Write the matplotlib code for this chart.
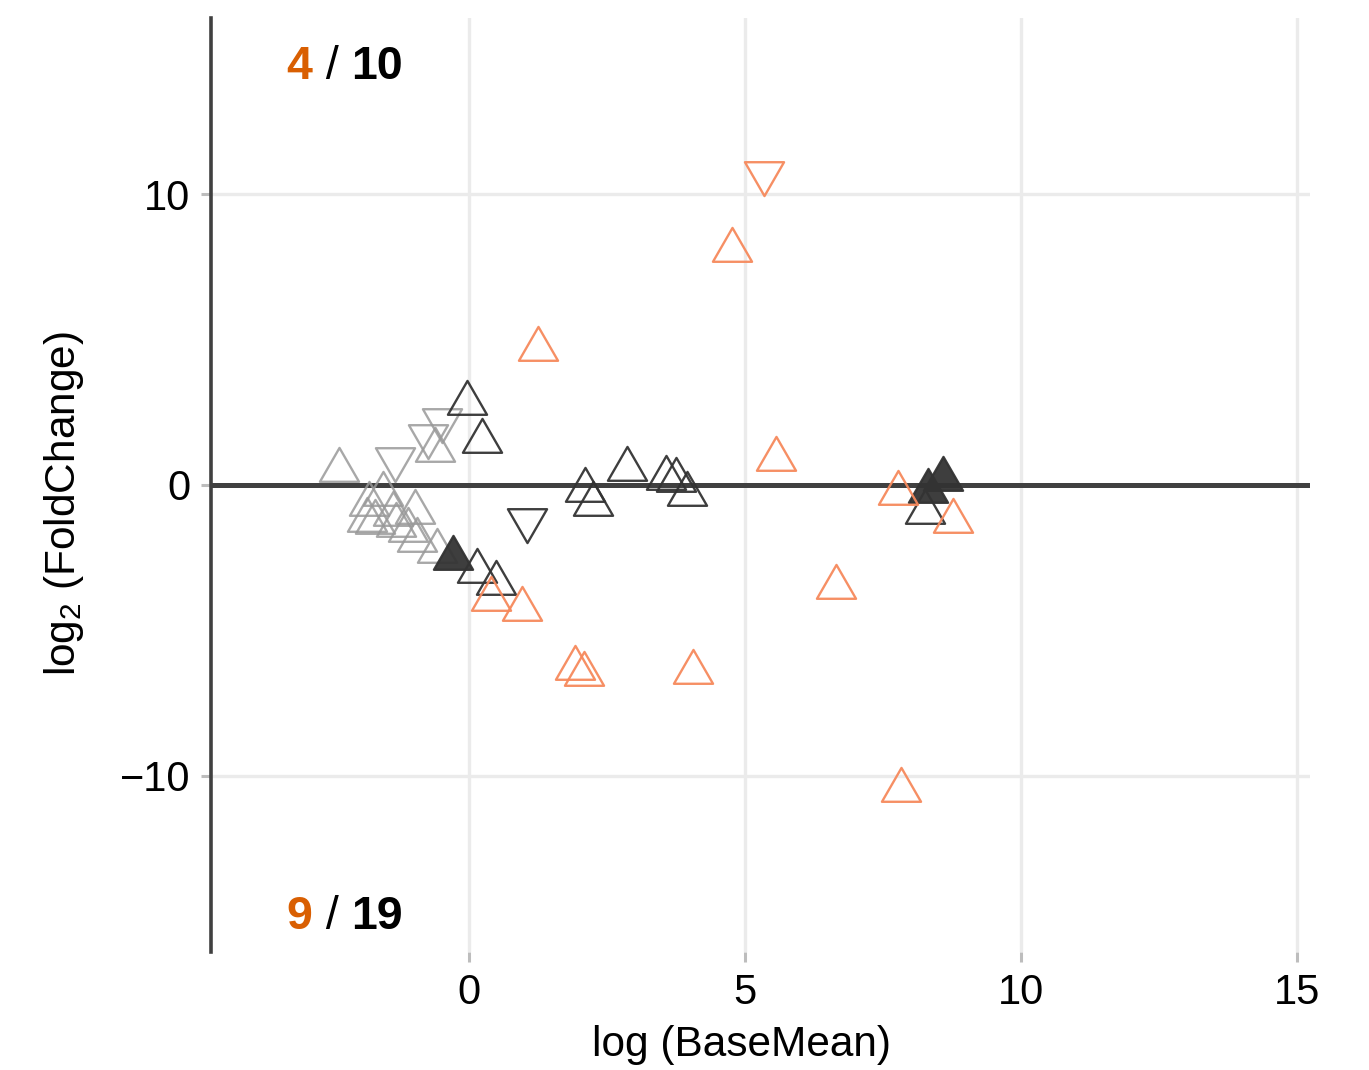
import matplotlib
matplotlib.use("Agg")
import matplotlib.pyplot as plt
from matplotlib.path import Path
from matplotlib.markers import MarkerStyle

plt.rcParams['font.family'] = ['Liberation Sans', 'DejaVu Sans']
plt.rcParams['mathtext.fontset'] = 'custom'
plt.rcParams['mathtext.rm'] = 'Liberation Sans'

# ---- data ----
gray_up_x = [-2.36, -0.62, -1.56, -1.80, -0.98, -1.38, -1.85, -1.70, -1.32, -1.10, -0.94, -0.58]
gray_up_y = [0.52, 1.20, -0.31, -0.65, -0.93, -1.00, -1.20, -1.27, -1.37, -1.55, -1.89, -2.27]
gray_down_x = [-1.34, -0.74, -0.49]
gray_down_y = [0.89, 1.68, 2.23]

black_up_x = [-0.04, 0.24, 0.14, 0.49, 2.10, 2.25, 2.86, 3.57, 3.75, 3.95, 8.26]
black_up_y = [2.82, 1.51, -2.96, -3.37, -0.17, -0.65, 0.55, 0.24, 0.17, -0.31, -0.93]
black_down_x = [1.05]
black_down_y = [-1.20]
black_filled_x = [-0.29, 8.32, 8.59]
black_filled_y = [-2.51, -0.21, 0.21]

orange_up_x = [4.76, 1.25, 5.56, 7.77, 8.77, 6.65, 0.40, 0.96, 1.93, 2.09, 4.06, 7.83]
orange_up_y = [8.08, 4.67, 0.89, -0.27, -1.24, -3.50, -3.92, -4.26, -6.29, -6.50, -6.43, -10.48]
orange_down_x = [5.34]
orange_down_y = [10.72]

up_count = ("4", "10")
down_count = ("9", "19")

x_ticks = [0, 5, 10, 15]
y_ticks = [-10, 0, 10]

# ---- styles ----
ORANGE = '#F6895C'
ORANGE_TXT = '#D95F02'
DARK = '#333333'
GRAY = '#999999'

tri_up = MarkerStyle(Path([(0, 1), (-0.866, -0.5), (0.866, -0.5), (0, 1)],
                          [Path.MOVETO, Path.LINETO, Path.LINETO, Path.CLOSEPOLY]))
tri_down = MarkerStyle(Path([(0, -1), (-0.866, 0.5), (0.866, 0.5), (0, -1)],
                            [Path.MOVETO, Path.LINETO, Path.LINETO, Path.CLOSEPOLY]))

MS = 32.5
MEW = 1.7

fig = plt.figure(figsize=(13.69, 10.70), dpi=100)
ax = fig.add_axes([211/1369, 118/1070, (1310-211)/1369, (952-18)/1070])

ax.set_xlim(-4.67, 15.23)
ax.set_ylim(-16.05, 16.05)

for s in ['top', 'right', 'bottom']:
    ax.spines[s].set_visible(False)
ax.spines['left'].set_color('#404040')
ax.spines['left'].set_linewidth(2.6)

ax.set_xticks(x_ticks)
ax.set_yticks(y_ticks)
ax.set_xticklabels([str(v) for v in x_ticks])
ax.set_yticklabels(['\u221210', '0', '10'])
ax.tick_params(axis='both', labelsize=30, length=7, width=2.2, color='#BDBDBD', pad=8)
ax.grid(True, color='#EBEBEB', linewidth=2.4)
ax.set_axisbelow(True)

ax.axhline(0, color='#404040', linewidth=3.6, zorder=1.5)

def pts(x, y, marker, ec, fc='none', alpha=1.0, z=3):
    ax.plot(x, y, linestyle='none', marker=marker, markersize=MS,
            markeredgewidth=MEW, markeredgecolor=ec, markerfacecolor=fc,
            alpha=alpha, zorder=z)

pts(gray_up_x, gray_up_y, tri_up, GRAY, alpha=0.85)
pts(gray_down_x, gray_down_y, tri_down, GRAY, alpha=0.85)
pts(black_up_x, black_up_y, tri_up, DARK, alpha=0.95)
pts(black_down_x, black_down_y, tri_down, DARK, alpha=0.95)
pts(black_filled_x, black_filled_y, tri_up, DARK, fc=DARK, alpha=0.95)
pts(orange_up_x, orange_up_y, tri_up, ORANGE, alpha=0.95)
pts(orange_down_x, orange_down_y, tri_down, ORANGE, alpha=0.95)

ax.set_xlabel('log (BaseMean)', fontsize=30.5)
ax.xaxis.set_label_coords((741 - 211) / 1099, -0.078)
ax.set_ylabel(r'$\mathregular{log_2}$ (FoldChange)', fontsize=30.5)
ax.yaxis.set_label_coords((86 - 211) / 1099, 0.48)

# ---- count annotations ----
fig.canvas.draw()
renderer = fig.canvas.get_renderer()

def count_label(xd, yd, sig, total):
    x_px, y_px = ax.transData.transform((xd, yd))
    parts = [(sig, ORANGE_TXT, 'bold'), (' / ', 'black', 'normal'), (total, 'black', 'bold')]
    cur = x_px
    for txt, col, wt in parts:
        t = fig.text(cur / fig.dpi / fig.get_figwidth(), y_px / fig.dpi / fig.get_figheight(),
                     txt, color=col, fontweight=wt, fontsize=33.5, ha='left', va='center')
        bb = t.get_window_extent(renderer)
        cur = bb.x1

count_label(-3.30, 14.35, *up_count)
count_label(-3.30, -14.85, *down_count)

fig.savefig('out.png', dpi=100)
